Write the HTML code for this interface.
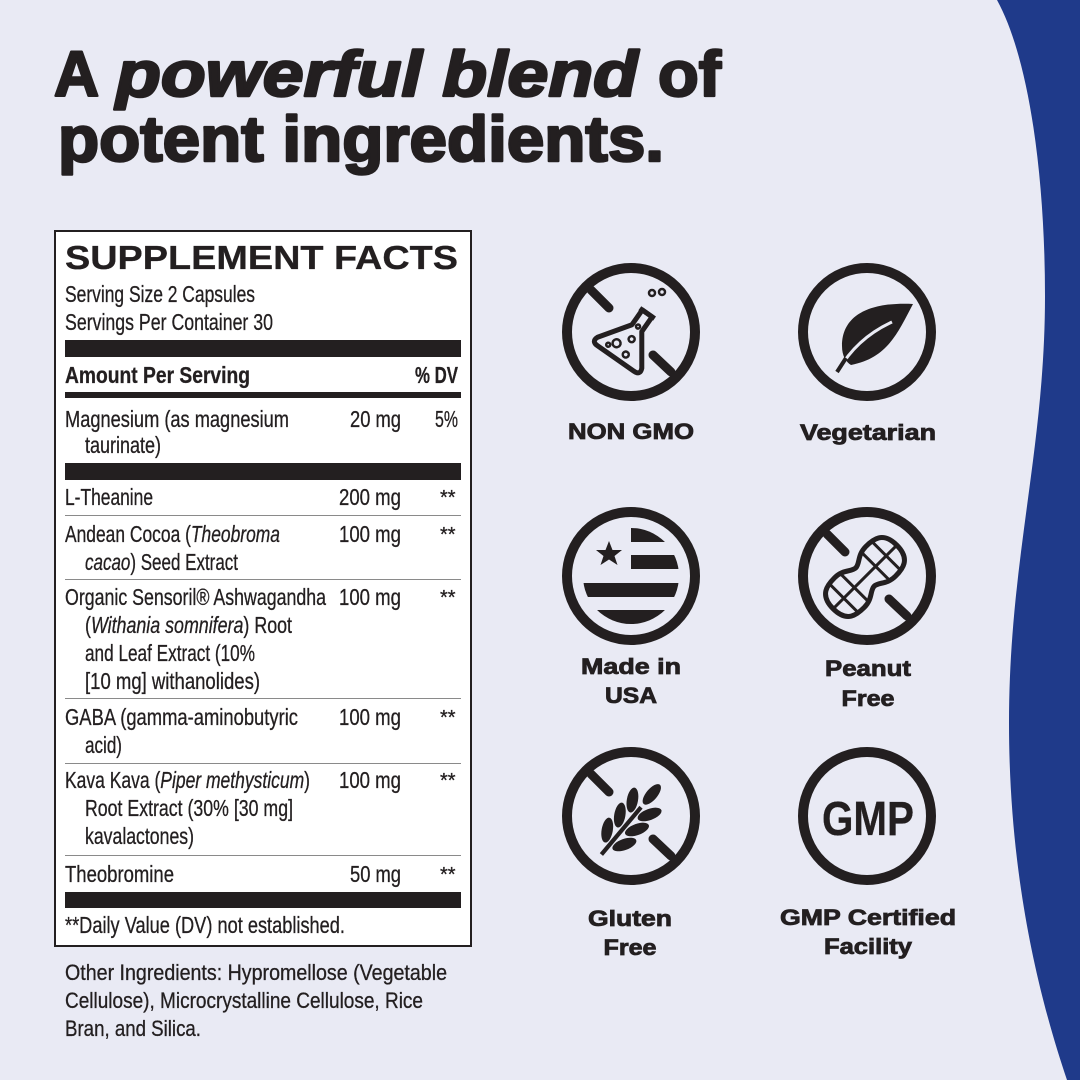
<!DOCTYPE html>
<html><head><meta charset="utf-8"><style>
html,body{margin:0;padding:0;background:#e9eaf4;}
svg{display:block;}
.n{font-family:"Liberation Sans Narrow","Liberation Sans",sans-serif;fill:#231f20;stroke:#231f20;stroke-width:0.3;}
.h{font-family:"Liberation Sans",sans-serif;font-weight:bold;fill:#231f20;}
</style></head><body>
<svg width="1080" height="1080" viewBox="0 0 1080 1080" xmlns="http://www.w3.org/2000/svg">
<rect width="1080" height="1080" fill="#e9eaf4"/>
<path d="M997,0 C1030,60 1045,180 1045,296 C1045,450 1009,560 1009,723 C1009,880 1040,1000 1067,1080 L1080,1080 L1080,0 Z" fill="#1f3a8a"/>

<!-- heading -->
<g stroke="#231f20" stroke-width="2.5" stroke-linejoin="round">
<text class="h" x="54" y="96" font-size="64" textLength="45" lengthAdjust="spacingAndGlyphs">A</text>
<text class="h" x="116" y="96" font-size="64" font-style="italic" textLength="522" lengthAdjust="spacingAndGlyphs">powerful blend</text>
<text class="h" x="658" y="96" font-size="64" textLength="63" lengthAdjust="spacingAndGlyphs">of</text>
<text class="h" x="58" y="161" font-size="64" textLength="606" lengthAdjust="spacingAndGlyphs">potent ingredients.</text>
</g>

<!-- facts box -->
<rect x="55" y="231" width="416" height="715" fill="#fff" stroke="#231f20" stroke-width="2"/>
<text class="n" x="65" y="269" font-size="33" font-weight="bold" stroke-width="1" textLength="393" lengthAdjust="spacingAndGlyphs">SUPPLEMENT FACTS</text>
<text class="n" x="65" y="302" font-size="23" textLength="190" lengthAdjust="spacingAndGlyphs">Serving Size 2 Capsules</text>
<text class="n" x="65" y="330" font-size="23" textLength="208" lengthAdjust="spacingAndGlyphs">Servings Per Container 30</text>
<rect x="65" y="340" width="396" height="17" fill="#231f20"/>
<text class="n" x="65" y="383" font-size="23" font-weight="bold" stroke-width="0.6" textLength="185" lengthAdjust="spacingAndGlyphs">Amount Per Serving</text>
<text class="n" x="415" y="383" font-size="23" font-weight="bold" stroke-width="0.6" textLength="43" lengthAdjust="spacingAndGlyphs">% DV</text>
<rect x="65" y="392" width="396" height="6" fill="#231f20"/>
<text class="n" x="65" y="427" font-size="23" textLength="224" lengthAdjust="spacingAndGlyphs">Magnesium (as magnesium</text>
<text class="n" x="350" y="427" font-size="23" textLength="51" lengthAdjust="spacingAndGlyphs">20 mg</text>
<text class="n" x="435" y="427" font-size="23" textLength="23" lengthAdjust="spacingAndGlyphs">5%</text>
<text class="n" x="85" y="453" font-size="23" textLength="76" lengthAdjust="spacingAndGlyphs">taurinate)</text>
<rect x="65" y="463" width="396" height="17" fill="#231f20"/>

<g class="n" font-size="23">
<text x="65" y="505" textLength="88" lengthAdjust="spacingAndGlyphs">L-Theanine</text>
<text x="339" y="505" textLength="62" lengthAdjust="spacingAndGlyphs">200 mg</text>
<text x="65" y="542" textLength="215" lengthAdjust="spacingAndGlyphs">Andean Cocoa (<tspan font-style="italic">Theobroma</tspan></text>
<text x="339" y="542" textLength="62" lengthAdjust="spacingAndGlyphs">100 mg</text>
<text x="85" y="570" textLength="153" lengthAdjust="spacingAndGlyphs"><tspan font-style="italic">cacao</tspan>) Seed Extract</text>
<text x="65" y="605" textLength="261" lengthAdjust="spacingAndGlyphs">Organic Sensoril® Ashwagandha</text>
<text x="339" y="605" textLength="62" lengthAdjust="spacingAndGlyphs">100 mg</text>
<text x="85" y="633" textLength="207" lengthAdjust="spacingAndGlyphs">(<tspan font-style="italic">Withania somnifera</tspan>) Root</text>
<text x="85" y="661" textLength="170" lengthAdjust="spacingAndGlyphs">and Leaf Extract (10%</text>
<text x="85" y="689" textLength="175" lengthAdjust="spacingAndGlyphs">[10 mg] withanolides)</text>
<text x="65" y="725" textLength="233" lengthAdjust="spacingAndGlyphs">GABA (gamma-aminobutyric</text>
<text x="339" y="725" textLength="62" lengthAdjust="spacingAndGlyphs">100 mg</text>
<text x="85" y="753" textLength="37" lengthAdjust="spacingAndGlyphs">acid)</text>
<text x="65" y="788" textLength="245" lengthAdjust="spacingAndGlyphs">Kava Kava (<tspan font-style="italic">Piper methysticum</tspan>)</text>
<text x="339" y="788" textLength="62" lengthAdjust="spacingAndGlyphs">100 mg</text>
<text x="85" y="816" textLength="208" lengthAdjust="spacingAndGlyphs">Root Extract (30% [30 mg]</text>
<text x="85" y="844" textLength="109" lengthAdjust="spacingAndGlyphs">kavalactones)</text>
<text x="65" y="882" textLength="109" lengthAdjust="spacingAndGlyphs">Theobromine</text>
<text x="350" y="882" textLength="51" lengthAdjust="spacingAndGlyphs">50 mg</text>
<text x="65" y="933" textLength="280" lengthAdjust="spacingAndGlyphs">**Daily Value (DV) not established.</text>
</g>
<g class="n" font-size="20">
<text x="440" y="504">**</text><text x="440" y="541">**</text><text x="440" y="604">**</text>
<text x="440" y="724">**</text><text x="440" y="787">**</text><text x="440" y="881">**</text>
</g>
<g fill="#8a8a8a">
<rect x="65" y="515" width="396" height="1"/>
<rect x="65" y="579" width="396" height="1"/>
<rect x="65" y="698" width="396" height="1"/>
<rect x="65" y="763" width="396" height="1"/>
<rect x="65" y="855" width="396" height="1"/>
</g>
<rect x="65" y="892" width="396" height="16" fill="#231f20"/>

<g class="n" font-size="22">
<text x="65" y="980" textLength="382" lengthAdjust="spacingAndGlyphs">Other Ingredients: Hypromellose (Vegetable</text>
<text x="65" y="1008" textLength="358" lengthAdjust="spacingAndGlyphs">Cellulose), Microcrystalline Cellulose, Rice</text>
<text x="65" y="1036" textLength="136" lengthAdjust="spacingAndGlyphs">Bran, and Silica.</text>
</g>

<!-- icons -->
<g fill="none" stroke="#231f20" stroke-width="10">
<circle cx="631" cy="332" r="64"/><circle cx="867" cy="332" r="64"/>
<circle cx="631" cy="576" r="64"/><circle cx="867" cy="576" r="64"/>
<circle cx="631" cy="816" r="64"/><circle cx="867" cy="816" r="64"/>
</g>
<g stroke="#231f20" stroke-width="9" stroke-linecap="round">
<line x1="591" y1="290" x2="609" y2="308"/><line x1="653" y1="355" x2="671" y2="372"/>
<line x1="827" y1="534" x2="845" y2="552"/><line x1="889" y1="599" x2="907" y2="616"/>
<line x1="591" y1="774" x2="609" y2="792"/><line x1="653" y1="839" x2="671" y2="856"/>
</g>
<!-- flask -->
<g transform="translate(630,338) rotate(35)" fill="none" stroke="#231f20" stroke-width="5" stroke-linejoin="round">
<path d="M-6,-30 L6,-30 L6,-12 L27,18 Q30,25 22,25 L-22,25 Q-30,25 -27,18 L-6,-12 Z"/>
<line x1="-9" y1="-30" x2="9" y2="-30"/>
<g stroke-width="2.5"><circle cx="-8" cy="12" r="4"/><circle cx="6" cy="16" r="3"/><circle cx="-14" cy="18" r="2"/><circle cx="2" cy="0" r="3"/><circle cx="0" cy="-14" r="2"/></g>
</g>
<g fill="none" stroke="#231f20" stroke-width="2.5"><circle cx="652" cy="293" r="3"/><circle cx="662" cy="292" r="3"/></g>
<!-- leaf -->
<path d="M913,304 C875,302 842,312 842,346 C842,356 846,362 851,365 C888,358 898,332 913,304 Z" fill="#231f20"/>
<path d="M838,371 C850,350 868,333 892,322" fill="none" stroke="#e9eaf4" stroke-width="3"/>
<line x1="837" y1="372" x2="846" y2="358" stroke="#231f20" stroke-width="4"/>
<!-- flag -->
<clipPath id="fc"><circle cx="631" cy="576" r="48"/></clipPath>
<g clip-path="url(#fc)" fill="#231f20">
<rect x="631" y="528" width="60" height="14"/>
<rect x="631" y="555" width="60" height="14"/>
<rect x="570" y="583" width="130" height="14"/>
<rect x="570" y="610" width="130" height="14"/>
</g>
<polygon points="609,541 612.5,550 622,550 614.5,556 617.5,565 609,559.5 600.5,565 603.5,556 596,550 605.5,550" fill="#231f20"/>
<!-- peanut -->
<g transform="translate(865,577) rotate(-45)" fill="none" stroke="#231f20" stroke-width="5">
<path d="M-45,0 C-45,-20 -32,-21 -22,-21 C-10,-21 -6,-13 0,-13 C6,-13 10,-21 22,-21 C32,-21 45,-20 45,0 C45,20 32,21 22,21 C10,21 6,13 0,13 C-6,13 -10,21 -22,21 C-32,21 -45,20 -45,0 Z"/>
<g stroke-width="3"><line x1="-30" y1="-20" x2="-30" y2="20"/><line x1="-15" y1="-18" x2="-15" y2="18"/><line x1="15" y1="-18" x2="15" y2="18"/><line x1="30" y1="-20" x2="30" y2="20"/><line x1="-44" y1="0" x2="44" y2="0"/></g>
</g>
<!-- wheat -->
<g transform="translate(632,818) rotate(40) scale(1.4)" fill="#231f20">
<rect x="-1.5" y="-10" width="3" height="44"/>
<ellipse cx="0" cy="-22" rx="4" ry="9"/>
<ellipse cx="-8" cy="-10" rx="4" ry="9" transform="rotate(-30 -8 -10)"/>
<ellipse cx="8" cy="-10" rx="4" ry="9" transform="rotate(30 8 -10)"/>
<ellipse cx="-8" cy="4" rx="4" ry="9" transform="rotate(-30 -8 4)"/>
<ellipse cx="8" cy="4" rx="4" ry="9" transform="rotate(30 8 4)"/>
<ellipse cx="-8" cy="18" rx="4" ry="9" transform="rotate(-30 -8 18)"/>
<ellipse cx="8" cy="18" rx="4" ry="9" transform="rotate(30 8 18)"/>
</g>
<text class="n" x="822" y="835" font-size="48" font-weight="bold" stroke-width="1.5" textLength="92" lengthAdjust="spacingAndGlyphs">GMP</text>

<!-- labels -->
<g class="h" font-size="22" text-anchor="middle" stroke="#231f20" stroke-width="0.8">
<text x="631" y="439" textLength="126" lengthAdjust="spacingAndGlyphs">NON GMO</text>
<text x="868" y="440" textLength="136" lengthAdjust="spacingAndGlyphs">Vegetarian</text>
<text x="631" y="674" textLength="100" lengthAdjust="spacingAndGlyphs">Made in</text>
<text x="631" y="703" textLength="52" lengthAdjust="spacingAndGlyphs">USA</text>
<text x="868" y="676" textLength="86" lengthAdjust="spacingAndGlyphs">Peanut</text>
<text x="868" y="706" textLength="53" lengthAdjust="spacingAndGlyphs">Free</text>
<text x="630" y="926" textLength="84" lengthAdjust="spacingAndGlyphs">Gluten</text>
<text x="630" y="955" textLength="53" lengthAdjust="spacingAndGlyphs">Free</text>
<text x="868" y="925" textLength="176" lengthAdjust="spacingAndGlyphs">GMP Certified</text>
<text x="868" y="954" textLength="88" lengthAdjust="spacingAndGlyphs">Facility</text>
</g>
</svg>
</body></html>
